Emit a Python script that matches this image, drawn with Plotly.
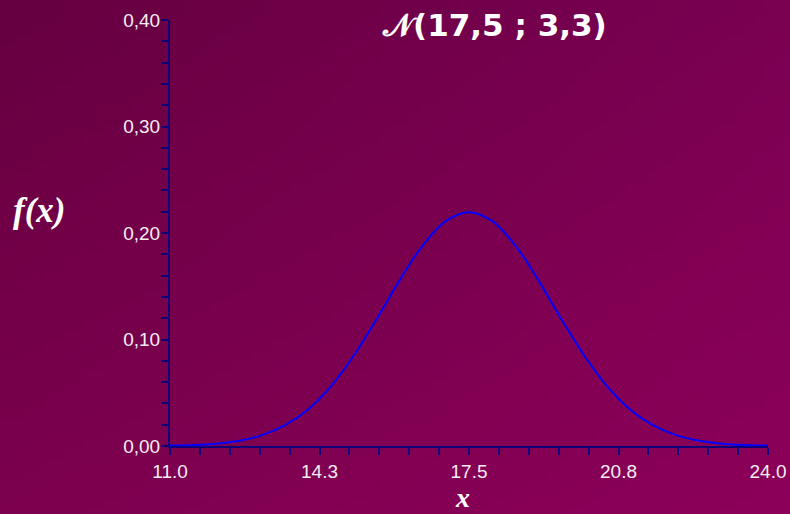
import base64, struct, zlib
import plotly.graph_objects as go

# Data (density values of the curve)
x_vals = [11.0, 11.5, 12.0, 12.5, 13.0, 13.5, 14.0, 14.5, 15.0, 15.5, 16.0, 16.5, 17.0,
          17.5, 18.0, 18.5, 19.0, 19.5, 20.0, 20.5, 21.0, 21.5, 22.0, 22.5, 23.0, 23.5, 24.0]
f_vals = [0.0004, 0.0009, 0.0022, 0.0050, 0.0102, 0.0195, 0.0343, 0.0562, 0.0852, 0.1198,
          0.1562, 0.1887, 0.2114, 0.2196, 0.2114, 0.1887, 0.1562, 0.1198, 0.0852, 0.0562,
          0.0343, 0.0195, 0.0102, 0.0050, 0.0022, 0.0009, 0.0004]

x_tickvals = [11.0, 14.25, 17.5, 20.75, 24.0]
x_ticktext = ["11.0", "14.3", "17.5", "20.8", "24.0"]
y_tickvals = [0.0, 0.1, 0.2, 0.3, 0.4]
y_ticktext = ["0,00", "0,10", "0,20", "0,30", "0,40"]

W, H = 790, 514
ML, MR, MT, MB = 170, 22, 20, 68
PW, PH = W - ML - MR, H - MT - MB

# background gradient PNG
def make_png(w, h, tl, tr, bl, br):
    rows = b""
    for j in range(h):
        v = j / (h - 1)
        row = b"\x00"
        for i in range(w):
            u = i / (w - 1)
            px = []
            for c in range(3):
                top = tl[c] * (1 - u) + tr[c] * u
                bot = bl[c] * (1 - u) + br[c] * u
                px.append(int(round(top * (1 - v) + bot * v)))
            row += bytes(px)
        rows += row
    def chunk(t, d):
        c = struct.pack(">I", len(d)) + t + d
        return c + struct.pack(">I", zlib.crc32(t + d) & 0xffffffff)
    png = b"\x89PNG\r\n\x1a\n"
    png += chunk(b"IHDR", struct.pack(">IIBBBBB", w, h, 8, 2, 0, 0, 0))
    png += chunk(b"IDAT", zlib.compress(rows))
    png += chunk(b"IEND", b"")
    return "data:image/png;base64," + base64.b64encode(png).decode()

bg = make_png(80, 52, (102, 0, 64), (122, 0, 82), (124, 0, 78), (140, 0, 90))

fig = go.Figure()
fig.add_trace(go.Scatter(x=x_vals, y=f_vals, mode="lines",
                         line=dict(color="#0000ff", width=2, shape="spline"),
                         hoverinfo="skip", showlegend=False))

axis_col = "#10007a"
tick_font = dict(family="Liberation Sans, Arial, sans-serif", size=19, color="#f4eef4")

fig.update_layout(
    width=W, height=H,
    margin=dict(l=ML, r=MR, t=MT, b=MB, autoexpand=False),
    paper_bgcolor="#780048",
    plot_bgcolor="rgba(0,0,0,0)",
    showlegend=False,
    images=[dict(source=bg, xref="paper", yref="paper",
                 x=-ML / PW, y=1 + MT / PH, sizex=W / PW, sizey=H / PH,
                 sizing="stretch", layer="below", xanchor="left", yanchor="top")],
    xaxis=dict(range=[11, 24], showgrid=False, zeroline=False, automargin=False,
               showline=True, linecolor=axis_col, linewidth=2,
               tickmode="array", tickvals=x_tickvals, ticktext=x_ticktext,
               ticks="outside", ticklen=7, tickwidth=2, tickcolor=axis_col,
               tickfont=tick_font,
               minor=dict(tick0=11, dtick=0.65, ticks="outside", ticklen=7,
                          tickwidth=2, tickcolor=axis_col, showgrid=False)),
    yaxis=dict(range=[0, 0.40], showgrid=False, zeroline=False, automargin=False,
               showline=True, linecolor=axis_col, linewidth=2,
               tickmode="array", tickvals=y_tickvals, ticktext=y_ticktext,
               ticks="outside", ticklen=7, tickwidth=2, tickcolor=axis_col,
               tickfont=tick_font, ticklabelstandoff=-3,
               minor=dict(tick0=0, dtick=0.02, ticks="outside", ticklen=7,
                          tickwidth=2, tickcolor=axis_col, showgrid=False)),
    annotations=[
        dict(text="<b>𝒩(17,5 ; 3,3)</b>", xref="paper", yref="paper",
             x=(494 - ML) / PW, y=1 + (MT - 25) / PH, xanchor="center", yanchor="middle",
             showarrow=False,
             font=dict(family="DejaVu Sans, Verdana, sans-serif", size=31, color="#ffffff")),
        dict(text="<b><i>f(x)</i></b>", xref="paper", yref="paper",
             x=(39 - ML) / PW, y=1 - (211 - MT) / PH, xanchor="center", yanchor="middle",
             showarrow=False,
             font=dict(family="Liberation Serif, Times New Roman, serif", size=35, color="#ffffff")),
        dict(text="<b><i>x</i></b>", xref="paper", yref="paper",
             x=(462 - ML) / PW, y=-(497 - MT - PH) / PH, xanchor="center", yanchor="middle",
             showarrow=False,
             font=dict(family="Liberation Serif, Times New Roman, serif", size=28, color="#ffffff")),
    ],
)

fig.write_html("out.html", config={"displayModeBar": False},
               post_script="document.body.style.margin='0';")
